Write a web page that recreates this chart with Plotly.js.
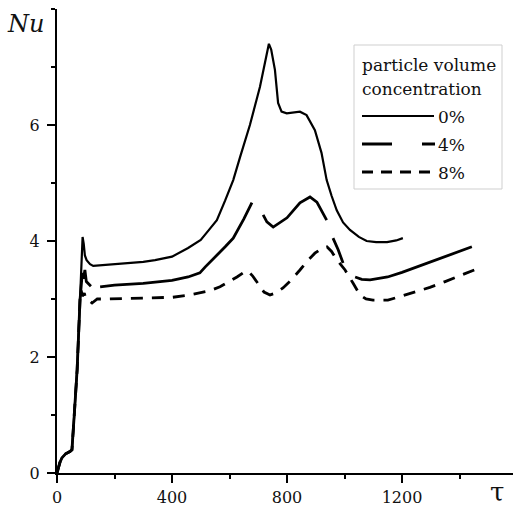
<!DOCTYPE html>
<html>
<head>
<meta charset="utf-8">
<script src="https://cdn.plot.ly/plotly-3.0.1.min.js"></script>
<style>html,body{margin:0;padding:0;background:#fff;}#chart{width:513px;height:507px;}</style>
</head>
<body>
<div id="chart"></div>
<script>
// ---- data (tau, Nu) ----
var seriesNames = ["0%", "4%", "8%"];
var legendTitle = ["particle volume", "concentration"];

var tau0 = [0,5,10,17,30,45,52,60,70,80,86,89,93,97,103,115,126,200,300,341,400,456,500,530,556,585,613,637,671,706,737,745,758,769,781,799,845,868,897,920,938,955,973,995,1019,1050,1077,1110,1148,1180,1203];
var nu0  = [0,0.12,0.18,0.26,0.33,0.37,0.40,1.0,1.78,2.98,3.7,4.07,3.95,3.75,3.67,3.6,3.57,3.6,3.64,3.67,3.73,3.88,4.02,4.2,4.36,4.7,5.05,5.45,6.0,6.66,7.40,7.3,6.95,6.38,6.23,6.2,6.23,6.17,5.91,5.52,5.05,4.78,4.53,4.32,4.19,4.07,4.0,3.98,3.98,4.01,4.05];

var tau4 = [0,5,10,17,30,45,52,60,70,80,84,88,92,97,102,110,118,135,150,200,300,341,400,456,497,515,550,585,613,650,678,697,717,730,752,800,845,880,904,920,938,949,960,978,995,1015,1037,1060,1089,1150,1200,1250,1297,1350,1400,1443];
var nu4  = [0,0.12,0.18,0.26,0.33,0.37,0.40,1.0,1.78,2.98,3.3,3.45,3.35,3.5,3.3,3.25,3.22,null,3.21,3.24,3.27,3.29,3.32,3.38,3.45,3.55,3.72,3.9,4.05,4.38,4.66,null,4.45,4.33,4.24,4.4,4.66,4.76,4.67,4.52,4.36,null,4.05,3.85,3.62,null,3.38,3.34,3.33,3.38,3.46,3.55,3.64,3.74,3.82,3.90];

var tau8 = [0,5,10,17,30,45,52,60,70,80,84,88,95,100,110,122,140,174,250,300,403,450,497,530,567,600,626,650,664,680,696,720,741,760,786,815,845,870,897,920,939,955,970,1002,1030,1054,1075,1099,1151,1200,1250,1297,1350,1400,1461];
var nu8  = [0,0.12,0.18,0.26,0.33,0.37,0.40,1.0,1.78,2.98,3.15,3.05,3.1,3.0,2.98,2.93,3.0,3.0,3.01,3.02,3.03,3.06,3.1,3.14,3.21,3.3,3.38,3.46,3.48,3.4,3.28,3.12,3.07,3.1,3.19,3.33,3.5,3.65,3.79,3.87,3.9,3.82,3.7,3.5,3.27,3.07,3.0,2.98,2.98,3.05,3.12,3.2,3.3,3.4,3.52];

var xTickVals = [0, 400, 800, 1200];
var yTickVals = [0, 2, 4, 6];

// ---- styling ----
var FONT = "DejaVu Serif";
var dash4 = "30px,30px,13px,30px";
var dash8 = "12px,9px";

var traces = [
  {x: tau0, y: nu0, mode: "lines", name: seriesNames[0], showlegend: false,
   line: {color: "#000", width: 2.2}},
  {x: tau4, y: nu4, mode: "lines", name: seriesNames[1], showlegend: false, connectgaps: false,
   line: {color: "#000", width: 2.8}},
  {x: tau8, y: nu8, mode: "lines", name: seriesNames[2], showlegend: false,
   line: {color: "#000", width: 2.8, dash: dash8}}
];

// pixel -> paper helpers (plot area: x 57..513, y 9..473)
var L = 57, T = 9, W = 456, H = 464;
function px(x){ return (x - L) / W; }
function py(y){ return (T + H - y) / H; }

var shapes = [
  {type: "rect", xref: "paper", yref: "paper", x0: px(354), x1: px(502), y0: py(45), y1: py(189),
   line: {color: "#cfcfcf", width: 1}, fillcolor: "rgba(0,0,0,0)"},
  {type: "line", xref: "paper", yref: "paper", x0: px(362), x1: px(434), y0: py(116), y1: py(116),
   line: {color: "#000", width: 2}},
  {type: "line", xref: "paper", yref: "paper", x0: px(362), x1: px(435), y0: py(144), y1: py(144),
   line: {color: "#000", width: 3.2, dash: dash4}},
  {type: "line", xref: "paper", yref: "paper", x0: px(362), x1: px(435), y0: py(172), y1: py(172),
   line: {color: "#000", width: 3.2, dash: "11px,8px"}}
];

var annFont = {family: FONT, size: 17, color: "#111"};
var annotations = [
  {xref: "paper", yref: "paper", x: px(25), y: py(24), text: "<i>Nu</i>", showarrow: false,
   xanchor: "center", yanchor: "middle", font: {family: FONT, size: 24, color: "#111"}},
  {xref: "paper", yref: "paper", x: px(497), y: py(492), text: "τ", showarrow: false,
   xanchor: "center", yanchor: "middle", font: {family: FONT, size: 26, color: "#111"}},
  {xref: "paper", yref: "paper", x: px(360), y: py(65), text: legendTitle[0], showarrow: false,
   xanchor: "left", yanchor: "middle", font: annFont},
  {xref: "paper", yref: "paper", x: px(360), y: py(89), text: legendTitle[1], showarrow: false,
   xanchor: "left", yanchor: "middle", font: annFont},
  {xref: "paper", yref: "paper", x: px(436), y: py(117), text: seriesNames[0], showarrow: false,
   xanchor: "left", yanchor: "middle", font: annFont},
  {xref: "paper", yref: "paper", x: px(436), y: py(145), text: seriesNames[1], showarrow: false,
   xanchor: "left", yanchor: "middle", font: annFont},
  {xref: "paper", yref: "paper", x: px(436), y: py(173), text: seriesNames[2], showarrow: false,
   xanchor: "left", yanchor: "middle", font: annFont}
];

var axisCommon = {
  showline: true, linecolor: "#000", linewidth: 2, mirror: false,
  showgrid: false, zeroline: false,
  ticks: "outside", ticklen: 8, tickwidth: 2, tickcolor: "#000",
  tickfont: {family: FONT, size: 16, color: "#111"}
};

var layout = {
  width: 513, height: 507,
  font: {family: FONT},
  margin: {l: L, r: 513 - L - W, t: T, b: 507 - T - H, pad: 0},
  paper_bgcolor: "#fff", plot_bgcolor: "#fff",
  showlegend: false,
  xaxis: Object.assign({}, axisCommon, {
    range: [0, W / 0.2875], tickvals: xTickVals, ticktext: xTickVals.map(String),
    ticklabelstandoff: 1,
    minor: {dtick: 200, tick0: 0, ticks: "outside", ticklen: 4, tickwidth: 2, tickcolor: "#000", showgrid: false}
  }),
  yaxis: Object.assign({}, axisCommon, {
    range: [0, 8], tickvals: yTickVals, ticktext: yTickVals.map(String),
    ticklabelstandoff: 4,
    minor: {dtick: 1, tick0: 0, ticks: "outside", ticklen: 4, tickwidth: 2, tickcolor: "#000", showgrid: false}
  }),
  shapes: shapes,
  annotations: annotations
};

Plotly.newPlot("chart", traces, layout, {displayModeBar: false, staticPlot: true});
</script>
</body>
</html>
